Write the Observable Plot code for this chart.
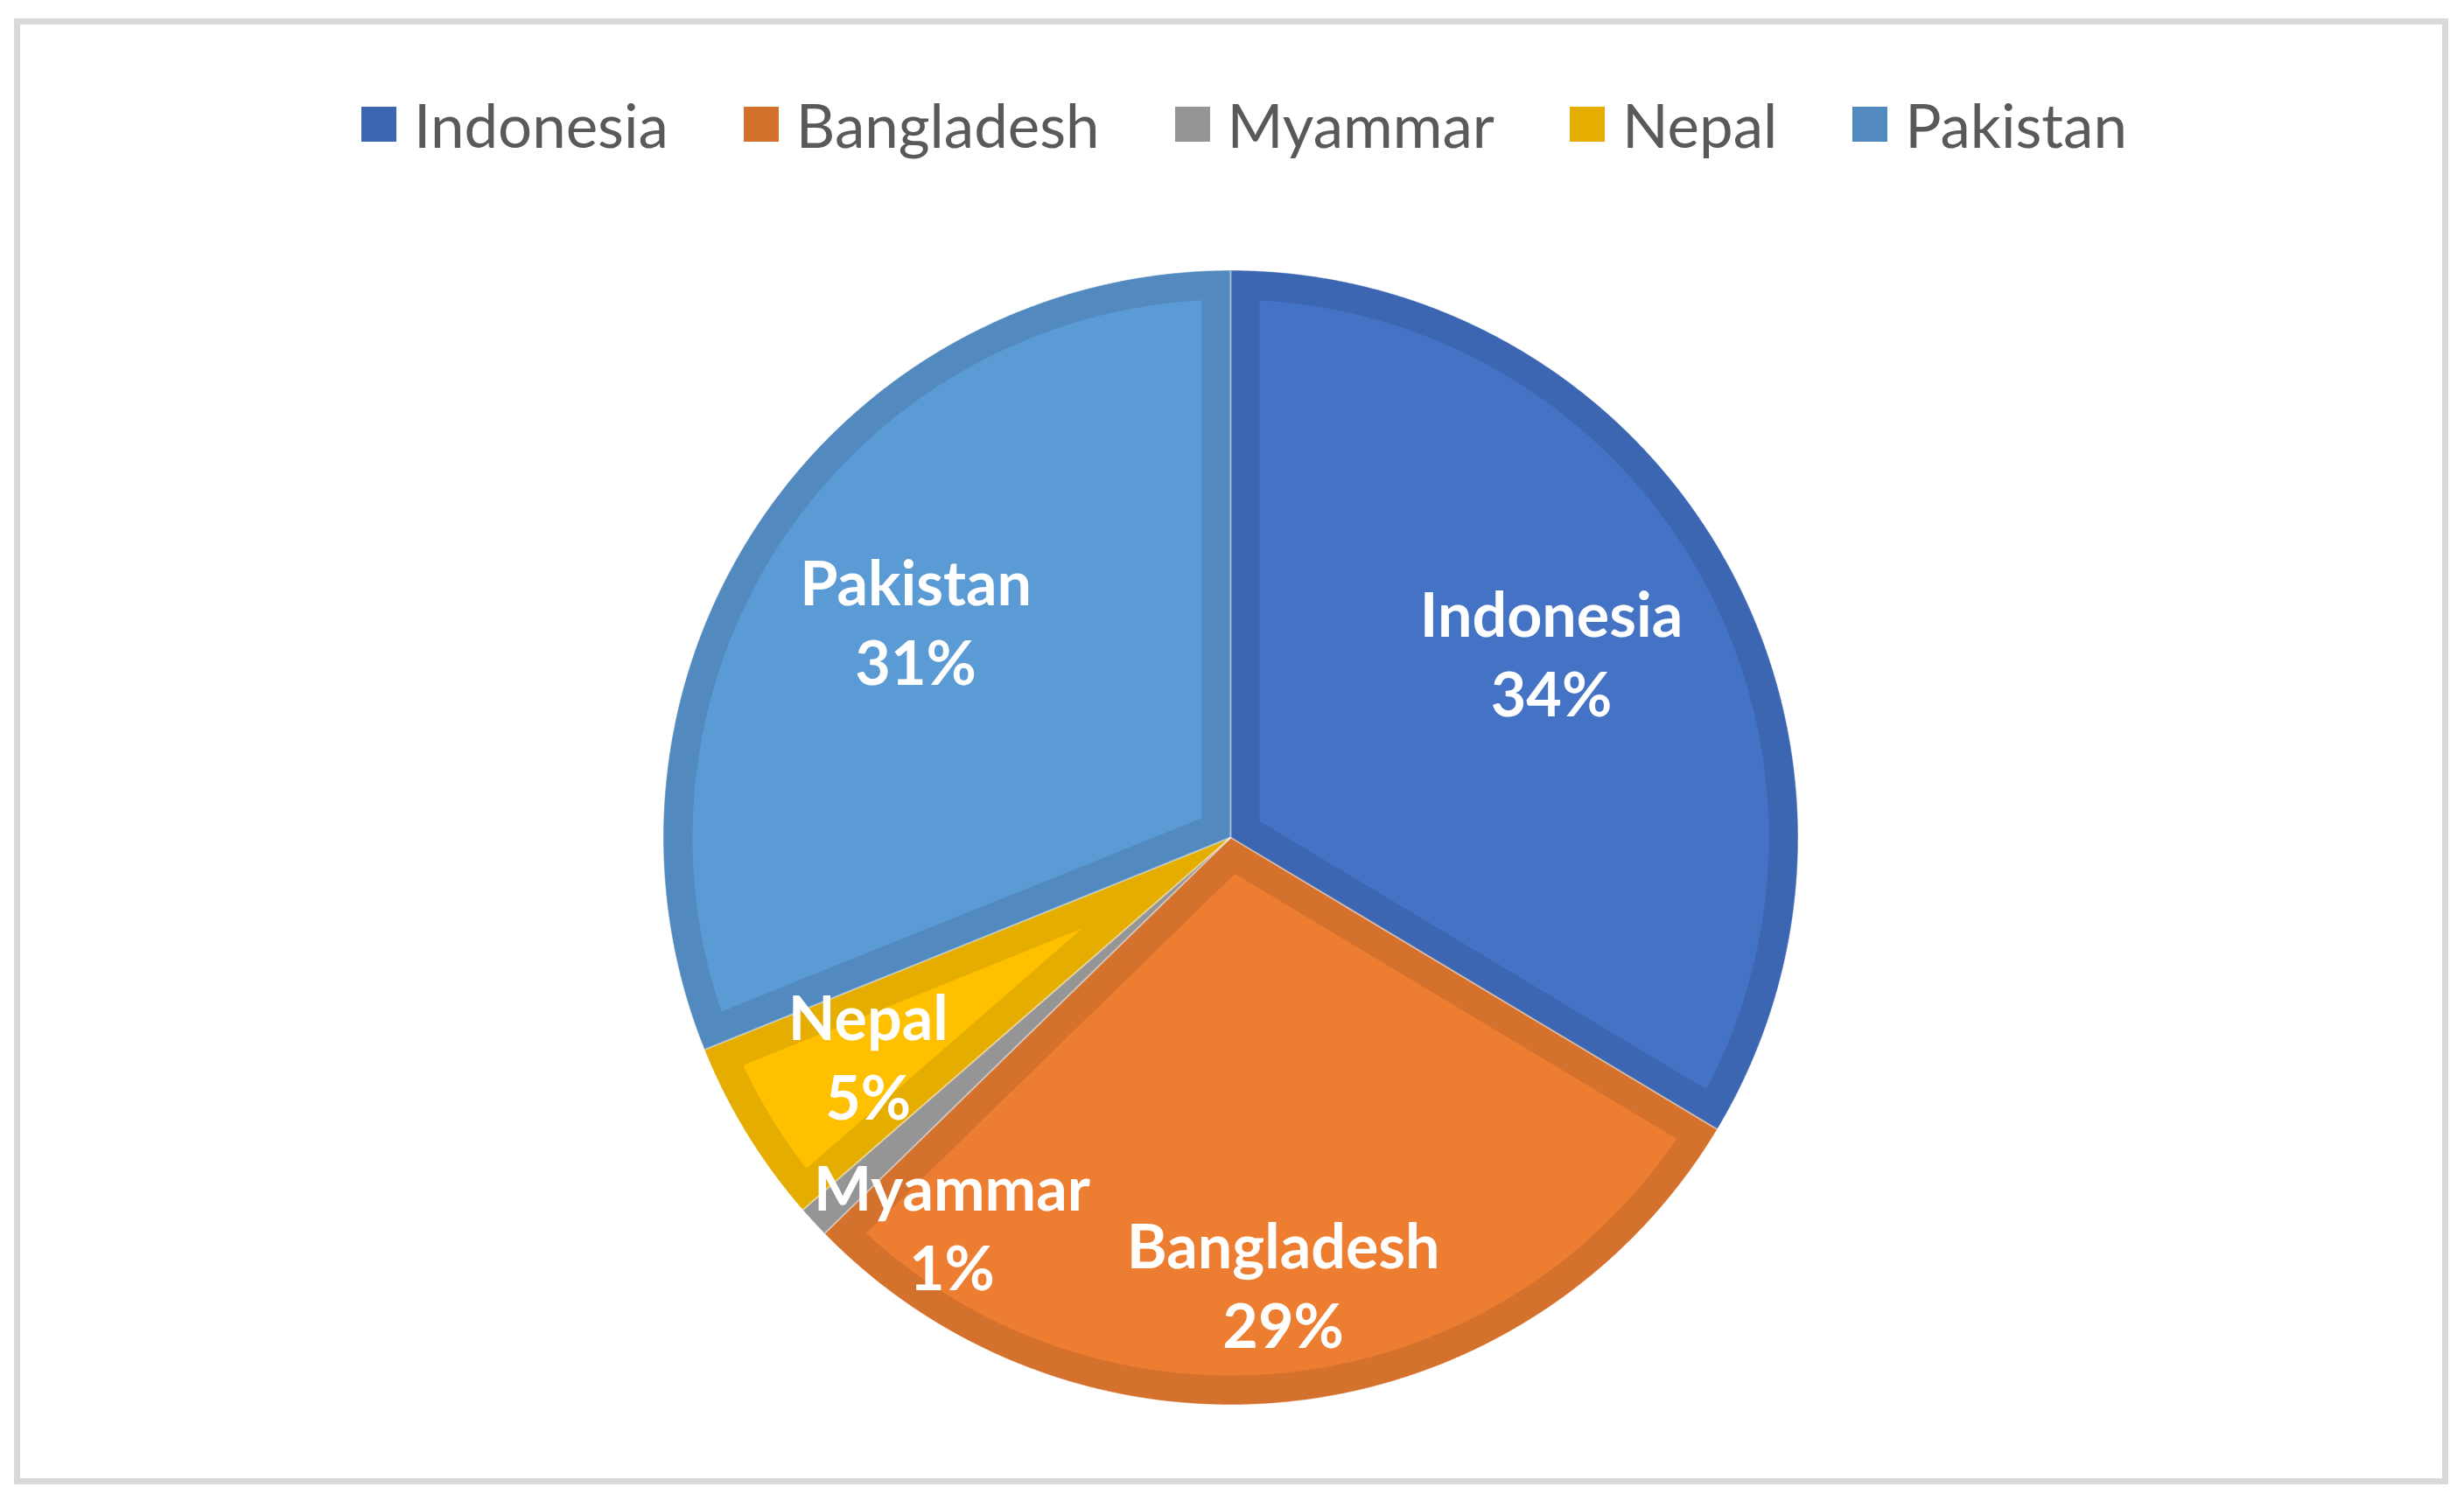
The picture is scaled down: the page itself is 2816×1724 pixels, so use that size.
<!DOCTYPE html>
<html><head><meta charset="utf-8">
<script src="https://cdn.jsdelivr.net/npm/d3@7"></script>
<script src="https://cdn.jsdelivr.net/npm/@observablehq/plot@0.6"></script>
<style>
html,body{margin:0;padding:0;background:#fff;}
#frame{position:absolute;left:16px;top:21px;width:2782px;height:1676px;box-sizing:border-box;border:7px solid #D9D9D9;background:#fff;overflow:hidden;}
#legend{position:absolute;left:30px;right:0;top:69px;height:90px;display:flex;justify-content:center;align-items:center;font-family:Lato,"Open Sans",sans-serif;font-size:69px;color:#595959;white-space:nowrap;}
.item{display:flex;align-items:center;margin:0 43px;}
.sw{width:40px;height:40px;margin-right:20px;flex:none;}
#chart{position:absolute;left:0;top:200px;}
</style>
</head><body>
<div id="frame"><div id="legend"></div><div id="chart"></div></div>
<script>
// ---- data ----
const countries = ["Indonesia", "Bangladesh", "Myammar", "Nepal", "Pakistan"];
const shares = [33.6, 29.1, 0.9, 5.3, 31.1];
// ---- styles ----
const fillColors = ["#4472C4", "#ED7D31", "#A5A5A5", "#FFC000", "#5B9BD5"];
const borderColors = ["#3C66B1", "#D4712C", "#959595", "#E5AD00", "#528ABF"];
// label placement: radius fraction and angle shift (degrees)
const labelRadius = [0.65, 0.80, 0.85, 0.75, 0.67];
const labelShift = [0, 0, -12, 0, 0];

const W = 2768, H = 1440, cx = 1383, cy = 729;
const R = 648, D = 33;

// legend
const legend = document.getElementById("legend");
countries.forEach((c, i) => {
  const it = document.createElement("div"); it.className = "item";
  const sw = document.createElement("div"); sw.className = "sw"; sw.style.background = borderColors[i];
  const tx = document.createElement("span"); tx.textContent = c;
  it.appendChild(sw); it.appendChild(tx); legend.appendChild(it);
});

const arcs = d3.pie().sort(null).value(d => d)(shares);
const pt = (r, a) => ({x: r * Math.sin(a), y: -r * Math.cos(a)});
const step = Math.PI / 720;

const marks = [];
arcs.forEach((a, i) => {
  const outer = [{x: 0, y: 0}];
  for (let t = a.startAngle; t < a.endAngle; t += step) outer.push(pt(R, t));
  outer.push(pt(R, a.endAngle));
  marks.push(Plot.line(outer, {x: "x", y: "y", fill: borderColors[i], stroke: borderColors[i], strokeWidth: 0.5, curve: "linear"}));
  const half = (a.endAngle - a.startAngle) / 2;
  const v = D / Math.sin(half);
  if (half < Math.PI / 2 && v < R - D - 5) {
    const del = Math.asin(D / (R - D));
    const bis = a.startAngle + half;
    const inner = [pt(v, bis)];
    for (let t = a.startAngle + del; t < a.endAngle - del; t += step) inner.push(pt(R - D, t));
    inner.push(pt(R - D, a.endAngle - del));
    marks.push(Plot.line(inner, {x: "x", y: "y", fill: fillColors[i], stroke: "none", curve: "linear"}));
  }
});

// thin light separators between slices
const seps = arcs.map(a => pt(R, a.startAngle));
marks.push(Plot.link(seps, {x1: () => 0, y1: () => 0, x2: "x", y2: "y", stroke: "#ffffff", strokeOpacity: 0.45, strokeWidth: 2}));

// labels
const labels = arcs.map((a, i) => {
  const ang = (a.startAngle + a.endAngle) / 2 + labelShift[i] * Math.PI / 180;
  const p = pt(labelRadius[i] * R, ang);
  return {x: p.x, y: p.y, text: countries[i] + "\n" + Math.round(shares[i]) + "%"};
});
marks.push(Plot.text(labels, {x: "x", y: "y", dy: -6, text: "text", fill: "white", fontSize: 70, fontWeight: "bold", fontFamily: "Lato, 'Open Sans', sans-serif", lineHeight: 1.3}));

const chart = Plot.plot({
  width: W, height: H, margin: 0,
  x: {domain: [-cx, W - cx], range: [0, W], axis: null},
  y: {domain: [-cy, H - cy], range: [0, H], axis: null},
  style: {background: "transparent", overflow: "visible"},
  marks
});
document.getElementById("chart").appendChild(chart);
</script>
</body></html>
